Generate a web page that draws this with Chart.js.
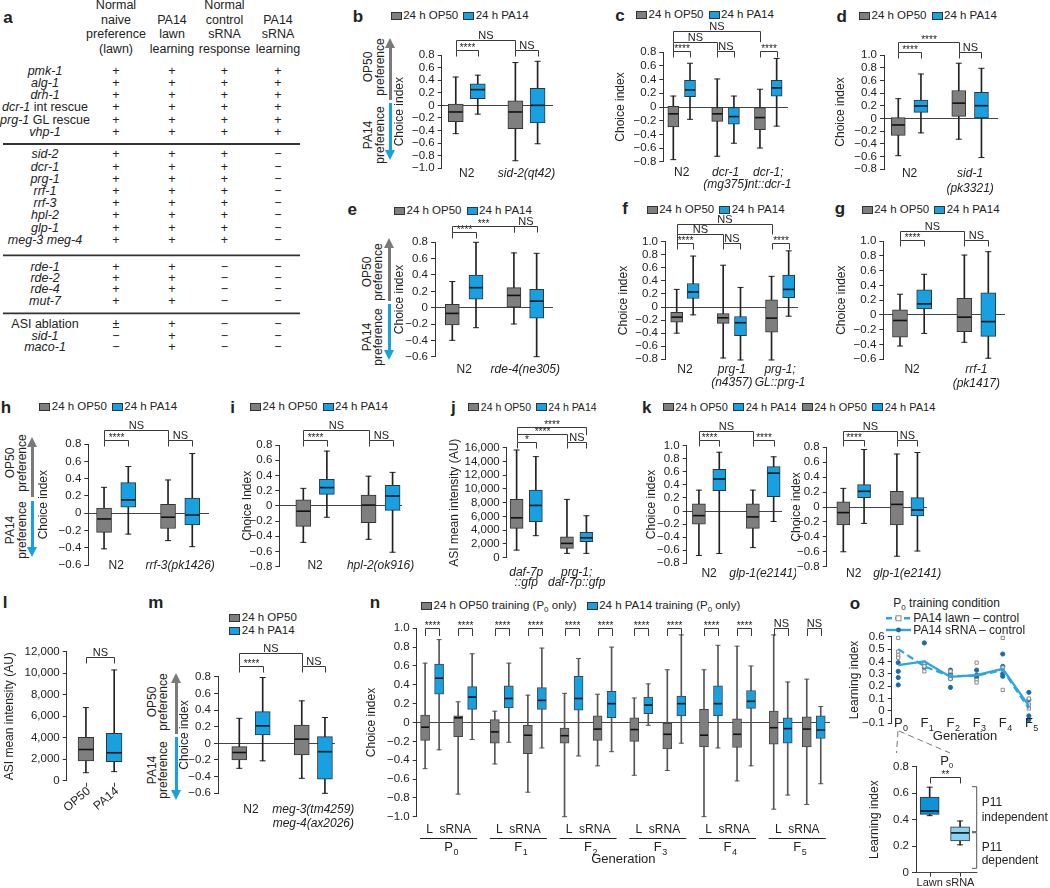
<!DOCTYPE html>
<html>
<head>
<meta charset="utf-8">
<title>PA14 learning panels</title>
<script src="https://cdn.jsdelivr.net/npm/chart.js@4.4.1/dist/chart.umd.min.js"></script>
<style>
  html, body { margin: 0; padding: 0; background: #fff; }
  body { position: relative; width: 1050px; height: 888px; overflow: hidden;
         font-family: "Liberation Sans", Arial, Helvetica, sans-serif; color: #222; }
  .t { position: absolute; white-space: nowrap; line-height: 1; font-size: 12px; }
  .t sub { font-size: 8px; vertical-align: -3px; line-height: 0; }
  .lt { font-weight: bold; font-size: 17px; }
  .sw { position: absolute; width: 11px; height: 8px; border: 1px solid #333; box-sizing: border-box; }
  canvas { position: absolute; }
</style>
</head>
<body>
<svg id="deco" width="1050" height="888" style="position:absolute;left:0;top:0"></svg>
<script>
'use strict';

// ---------- data ----------
// each box: [min, q1, median, q3, max]; boxes alternate 24 h OP50 / 24 h PA14
const aCols = [['Normal', 'naive', 'preference', '(lawn)'], ['PA14', 'lawn', 'learning'],
  ['Normal', 'control', 'sRNA', 'response'], ['PA14', 'sRNA', 'learning']];
const aGenes = [
  ['<i>pmk-1</i>', '<i>alg-1</i>', '<i>drh-1</i>', '<i>dcr-1</i> int rescue', '<i>prg-1</i> GL rescue', '<i>vhp-1</i>'],
  ['<i>sid-2</i>', '<i>dcr-1</i>', '<i>prg-1</i>', '<i>rrf-1</i>', '<i>rrf-3</i>', '<i>hpl-2</i>', '<i>glp-1</i>', '<i>meg-3 meg-4</i>'],
  ['<i>rde-1</i>', '<i>rde-2</i>', '<i>rde-4</i>', '<i>mut-7</i>'],
  ['ASI ablation', '<i>sid-1</i>', '<i>maco-1</i>']
];
const aMarks = [
  ['++++', '++++', '++++', '++++', '++++', '++++'],
  ['+++−', '+++−', '+++−', '+++−', '+++−', '+++−', '+++−', '+++−'],
  ['++−−', '++−−', '++−−', '++−−'],
  ['±+−−', '−+−−', '−+−−']
];

const bGroups = [['N2'], ['sid-2(qt42)']];
const bStats = [[-0.45, -0.26, -0.105, 0.02, 0.45], [-0.14, 0.105, 0.25, 0.34, 0.48],
  [-0.88, -0.37, -0.105, 0.07, 0.68], [-0.61, -0.28, 0.0, 0.27, 0.7]];
const bSig = [[0, 1, '****'], [2, 3, 'NS'], [0, 2, 'NS']];

const cGroups = [['N2'], ['dcr-1', '(mg375)'], ['dcr-1;', 'int::dcr-1']];
const cStats = [[-0.77, -0.29, -0.1, 0.01, 0.16], [-0.18, 0.15, 0.25, 0.39, 0.64],
  [-0.72, -0.21, -0.1, 0.0, 0.41], [-0.53, -0.25, -0.14, 0.0, 0.16],
  [-0.6, -0.33, -0.155, -0.01, 0.26], [-0.28, 0.16, 0.28, 0.39, 0.71]];
const cSig = [[0, 1, '****'], [2, 3, 'NS'], [4, 5, '****'], [0, 2, 'NS'], [0, 4, 'NS']];

const dGroups = [['N2'], ['sid-1', '(pk3321)']];
const dStats = [[-0.59, -0.27, -0.105, 0.01, 0.31], [-0.23, 0.095, 0.195, 0.29, 0.7],
  [-0.33, 0.03, 0.24, 0.44, 0.87], [-0.62, 0.0, 0.2, 0.41, 0.79]];
const dSig = [[0, 1, '****'], [2, 3, 'NS'], [0, 2, '****']];

const eGroups = [['N2'], ['rde-4(ne305)']];
const eStats = [[-0.4, -0.21, -0.07, 0.04, 0.32], [-0.245, 0.105, 0.245, 0.4, 0.8],
  [-0.2, 0.0, 0.15, 0.245, 0.67], [-0.6, -0.13, 0.08, 0.225, 0.665]];
const eSig = [[0, 1, '****'], [2, 3, 'NS'], [0, 2, '***']];

const fGroups = [['N2'], ['prg-1', '(n4357)'], ['prg-1;', 'GL::prg-1']];
const fStats = [[-0.4, -0.23, -0.155, -0.08, 0.27], [-0.12, 0.13, 0.23, 0.36, 0.78],
  [-0.78, -0.25, -0.165, -0.1, 0.64], [-0.81, -0.44, -0.24, -0.145, 0.3],
  [-0.81, -0.385, -0.17, 0.11, 0.47], [-0.14, 0.145, 0.27, 0.49, 0.86]];
const fSig = [[0, 1, '****'], [2, 3, 'NS'], [4, 5, '****'], [0, 2, 'NS'], [0, 4, 'NS']];

const gGroups = [['N2'], ['rrf-1', '(pk1417)']];
const gStats = [[-0.42, -0.3, -0.075, 0.07, 0.28], [-0.25, 0.08, 0.15, 0.34, 0.55],
  [-0.37, -0.225, -0.03, 0.225, 0.81], [-0.585, -0.29, -0.09, 0.3, 0.855]];
const gSig = [[0, 1, '****'], [2, 3, 'NS'], [0, 2, 'NS']];

const hGroups = [['N2'], ['rrf-3(pk1426)']];
const hStats = [[-0.41, -0.22, -0.065, 0.06, 0.3], [-0.24, 0.07, 0.155, 0.355, 0.54],
  [-0.315, -0.175, -0.045, 0.105, 0.385], [-0.385, -0.135, -0.02, 0.175, 0.69]];
const hSig = [[0, 1, '****'], [2, 3, 'NS'], [0, 2, 'NS']];

const iGroups = [['N2'], ['hpl-2(ok916)']];
const iStats = [[-0.48, -0.27, -0.07, 0.08, 0.23], [-0.15, 0.15, 0.24, 0.35, 0.72],
  [-0.44, -0.22, 0.01, 0.14, 0.39], [-0.61, -0.06, 0.13, 0.27, 0.44]];
const iSig = [[0, 1, '****'], [2, 3, 'NS'], [0, 2, 'NS']];

const jGroups = [['daf-7p', '::gfp'], ['prg-1;', 'daf-7p::gfp']];
const jStats = [[1100, 4270, 5800, 8480, 15660], [3200, 5240, 7600, 9840, 14700],
  [630, 1360, 2080, 3050, 8480], [630, 2330, 2900, 3680, 6100]];
const jSig = [[0, 1, '*'], [2, 3, 'NS'], [0, 2, '****'], [0, 3, '****']];

const kGroups = [['N2'], ['glp-1(e2141)']];
const k1Stats = [[-0.68, -0.2, -0.07, 0.11, 0.32], [-0.65, 0.31, 0.49, 0.64, 0.9],
  [-0.56, -0.265, -0.09, 0.11, 0.32], [-0.16, 0.22, 0.58, 0.68, 0.83]];
const k1Sig = [[0, 1, '****'], [2, 3, '****'], [0, 2, 'NS']];
const k2Stats = [[-0.6, -0.24, -0.075, 0.07, 0.25], [-0.22, 0.125, 0.21, 0.3, 0.77],
  [-0.66, -0.24, 0.035, 0.21, 0.71], [-0.59, -0.12, -0.04, 0.125, 0.73]];
const k2Sig = [[0, 1, '****'], [2, 3, 'NS'], [0, 2, 'NS']];

const lCats = ['OP50', 'PA14'];
const lStats = [[740, 1830, 2900, 4030, 6800], [840, 1770, 2600, 4400, 10300]];
const lSig = [[0, 1, 'NS']];

const mGroups = [['N2'], ['meg-3(tm4259)', 'meg-4(ax2026)']];
const mStats = [[-0.3, -0.2, -0.11, -0.04, 0.3], [-0.21, 0.1, 0.21, 0.38, 0.79],
  [-0.42, -0.14, 0.05, 0.22, 0.51], [-0.6, -0.43, -0.1, 0.08, 0.31]];
const mSig = [[0, 1, '****'], [2, 3, 'NS'], [0, 2, 'NS']];

// n: per generation -> L OP50, L PA14, sRNA OP50, sRNA PA14
const nGens = [['P', '0'], ['F', '1'], ['F', '2'], ['F', '3'], ['F', '4'], ['F', '5']];
const nStats = [
  [-0.49, -0.19, -0.05, 0.08, 0.63], [-0.29, 0.3, 0.47, 0.62, 0.88], [-0.76, -0.15, 0.05, 0.07, 0.22], [-0.18, 0.14, 0.27, 0.38, 0.73],
  [-0.44, -0.22, -0.1, 0.03, 0.12], [-0.21, 0.155, 0.255, 0.39, 0.63], [-0.74, -0.33, -0.135, -0.03, 0.29], [-0.27, 0.14, 0.235, 0.37, 0.79],
  [-1.0, -0.22, -0.14, -0.06, 0.31], [-0.355, 0.13, 0.255, 0.49, 0.68], [-0.46, -0.19, -0.07, 0.07, 0.3], [-0.31, 0.05, 0.2, 0.33, 0.8],
  [-0.56, -0.2, -0.075, 0.05, 0.26], [-0.03, 0.095, 0.185, 0.27, 0.41], [-0.51, -0.28, -0.125, -0.01, 0.56], [-0.22, 0.07, 0.2, 0.28, 0.93],
  [-1.0, -0.26, -0.135, 0.14, 0.56], [-0.27, 0.07, 0.2, 0.39, 0.82], [-0.62, -0.265, -0.125, 0.04, 0.81], [-0.46, 0.15, 0.225, 0.34, 0.6],
  [-0.92, -0.23, -0.055, 0.12, 0.93], [-0.77, -0.22, -0.065, 0.05, 0.43], [-0.87, -0.26, -0.07, 0.06, 0.46], [-0.65, -0.17, -0.08, 0.07, 0.17]
];
const nSig = ['****', '****', '****', '****', '****', '****', '****', '****', '****', '****', 'NS', 'NS'];

// o: learning index per generation
const oLawn = [0.5, 0.36, 0.28, 0.285, 0.33, 0.02];
const oSrna = [0.37, 0.4, 0.275, 0.29, 0.34, 0.04];
const oLawnReps = [[0.59, 0.48, 0.45, 0.43], [0.39, 0.36, 0.32], [0.32, 0.28, 0.26], [0.39, 0.25, 0.23], [0.59, 0.35, 0.17], [0.1, 0.05, 0.02]];
const oSrnaReps = [[0.39, 0.32, 0.27, 0.21], [0.55, 0.38, 0.35], [0.33, 0.3, 0.26, 0.19], [0.33, 0.29, 0.27], [0.46, 0.36, 0.3, 0.28], [0.15, 0.09, -0.04, -0.07]];
const oInsetCats = [['Lawn'], ['sRNA']];
const oInsetStats = [[0.43, 0.44, 0.465, 0.57, 0.645], [0.21, 0.24, 0.3, 0.345, 0.39]];
const oInsetSig = [[0, 1, '**']];

// ---------- helpers ----------
const FONT = '"Liberation Sans", Arial, Helvetica, sans-serif';
const GRAY = '#7f7f7f', BLUE = '#17a1e2', AGRAY = '#7a7a7a';
Chart.defaults.font.family = FONT;

function txt(x, y, html, css) {
  const d = document.createElement('div');
  d.className = 't';
  d.innerHTML = html;
  d.style.left = x + 'px';
  d.style.top = y + 'px';
  d.style.transform = 'translate(-50%,-50%)';
  Object.assign(d.style, css || {});
  document.body.appendChild(d);
  return d;
}
function ltxt(x, y, html, css) {
  return txt(x, y, html, Object.assign({ transform: 'translate(0,-50%)' }, css || {}));
}
function letter(x, y, s) { txt(x, y, s).classList.add('lt'); }

// legend items flow left to right from x
function legend(x, y, items, size) {
  items.forEach(([col, label]) => {
    const s = document.createElement('div');
    s.className = 'sw';
    s.style.left = x + 'px';
    s.style.top = (y - 4) + 'px';
    s.style.background = col;
    document.body.appendChild(s);
    const t = ltxt(x + 12.5, y, label, { fontSize: (size || 11.5) + 'px' });
    x += 12.5 + t.offsetWidth + 5;
  });
}

function div(css) {
  const d = document.createElement('div');
  d.style.position = 'absolute';
  Object.assign(d.style, css);
  document.body.appendChild(d);
}
// OP50 / PA14 preference arrow left of a choice-index axis
function prefArrow(x, yTop, yMid, yBot, tx1, tx2, cy1, cy2) {
  div({ left: (x - 1.5) + 'px', top: (yTop + 9) + 'px', width: '3px', height: (yMid - 1.5 - yTop - 9) + 'px', background: AGRAY });
  div({ left: (x - 5.5) + 'px', top: yTop + 'px', width: 0, height: 0, borderLeft: '5.5px solid transparent',
    borderRight: '5.5px solid transparent', borderBottom: '10px solid ' + AGRAY });
  div({ left: (x - 1.5) + 'px', top: (yMid + 1.5) + 'px', width: '3px', height: (yBot - 9 - yMid - 1.5) + 'px', background: BLUE });
  div({ left: (x - 5.5) + 'px', top: (yBot - 10) + 'px', width: 0, height: 0, borderLeft: '5.5px solid transparent',
    borderRight: '5.5px solid transparent', borderTop: '10px solid ' + BLUE });
  const rot = { transform: 'translate(-50%,-50%) rotate(-90deg)' };
  txt(tx1, cy1, 'OP50', rot); txt(tx2, cy1, 'preference', rot);
  txt(tx1, cy2, 'PA14', rot); txt(tx2, cy2, 'preference', rot);
}

function fmtDec(v) {
  if (Math.abs(v) < 1e-9) return '0';
  return (v < 0 ? '\u2212' : '') + Math.abs(v).toFixed(1);
}
function fmtK(v) { return Math.round(v).toLocaleString('en-US'); }

function drawSub(ctx, base, sub, x, y, size) {
  ctx.font = size + 'px ' + FONT;
  const w1 = ctx.measureText(base).width;
  ctx.textAlign = 'left';
  ctx.textBaseline = 'middle';
  ctx.fillText(base, x - w1 / 2, y);
  ctx.font = Math.round(size * 0.72) + 'px ' + FONT;
  ctx.fillText(sub, x + w1 / 2 + 0.5, y + size * 0.38);
}

// brackets, group labels and other annotations drawn from the chart scales
const annot = {
  id: 'annot',
  afterDraw(chart, args, o) {
    const ctx = chart.ctx, xs = chart.scales.x, ca = chart.chartArea, T = o.top;
    const px = i => xs.getPixelForValue(o.pos[i]);
    ctx.save();
    ctx.strokeStyle = '#3a3a3a';
    ctx.fillStyle = '#222';
    ctx.lineWidth = 1;
    (o.sig || []).forEach((s, k) => {
      const x1 = Math.round(px(s[0])) + 0.5, x2 = Math.round(px(s[1])) + 0.5;
      const y = Math.round(o.brY[k] - T) + 0.5;
      const leg = (o.brLeg && o.brLeg[k]) || 6;
      ctx.beginPath();
      ctx.moveTo(x1, y + leg); ctx.lineTo(x1, y); ctx.lineTo(x2, y); ctx.lineTo(x2, y + leg);
      ctx.stroke();
      const ns = s[2] === 'NS';
      ctx.font = (ns ? 11 : 10) + 'px ' + FONT;
      ctx.textAlign = 'center';
      ctx.textBaseline = 'alphabetic';
      ctx.fillText(s[2], (x1 + x2) / 2, y - (ns ? 1.5 : 0));
    });
    (o.groups || []).forEach((g, k) => {
      const idx = o.groupIdx ? o.groupIdx[k] : [2 * k, 2 * k + 1];
      const x = (px(idx[0]) + px(idx[idx.length - 1])) / 2;
      g.forEach((line, m) => {
        ctx.font = (line === 'N2' || o.roman ? '' : 'italic ') + (o.labelSize || 12) + 'px ' + FONT;
        ctx.textAlign = 'center';
        ctx.textBaseline = 'middle';
        ctx.fillText(line, x, o.labelY - T + m * (o.gap || 13));
      });
    });
    if (o.rot) {
      o.rot.forEach((s, i) => {
        ctx.save();
        ctx.translate(px(i) + 3, ca.bottom + 9);
        ctx.rotate(-40 * Math.PI / 180);
        ctx.font = '12px ' + FONT;
        ctx.textAlign = 'right';
        ctx.textBaseline = 'middle';
        ctx.fillText(s, 0, 0);
        ctx.restore();
      });
    }
    if (o.xticks) {
      o.pos.forEach((_, i) => {
        const x = Math.round(px(i)) + 0.5;
        ctx.beginPath(); ctx.moveTo(x, ca.bottom + (o.tickGap || 0)); ctx.lineTo(x, ca.bottom + (o.tickGap || 0) + 4); ctx.stroke();
      });
    }
    if (o.gens) {
      o.gens.forEach((g, k) => {
        const x0 = px(4 * k), x3 = px(4 * k + 3);
        const a = x0 - 5, b = x3 + 5, c = (a + b) / 2;
        ctx.font = '12px ' + FONT;
        ctx.textAlign = 'center';
        ctx.textBaseline = 'middle';
        ctx.fillText('L  sRNA', c, o.gLabelY - T);
        ctx.strokeStyle = '#222';
        ctx.beginPath(); ctx.moveTo(a, Math.round(o.gLineY - T) + 0.5); ctx.lineTo(b, Math.round(o.gLineY - T) + 0.5); ctx.stroke();
        drawSub(ctx, g[0], g[1], c, o.genY - T, 13);
      });
      ctx.font = '13px ' + FONT;
      ctx.textAlign = 'center';
      ctx.textBaseline = 'middle';
      ctx.fillText('Generation', (ca.left + ca.right) / 2, o.genTitleY - T);
    }
    if (o.catSubs) {
      o.catSubs.forEach((g, k) => drawSub(ctx, g[0], g[1], xs.getPixelForValue(k), o.catY - T, 13));
      ctx.font = '13px ' + FONT;
      ctx.textAlign = 'center';
      ctx.textBaseline = 'middle';
      ctx.fillText('Generation', o.catTitleX - o.left, o.catTitleY - T);
    }
    ctx.restore();
  }
};

function yScale(p, yW, L) {
  return {
    min: p.yMin, max: p.yMax,
    afterFit: s => { s.width = yW; },
    border: { display: true, color: '#333', width: 1 },
    grid: {
      drawOnChartArea: p.zero !== false,
      color: c => (c.tick && Math.abs(c.tick.value) < 1e-9) ? '#444' : 'rgba(0,0,0,0)',
      tickColor: '#333', tickLength: 4, lineWidth: 1
    },
    ticks: { stepSize: p.step, color: '#222', font: { family: FONT, size: 11.5 }, padding: 3,
      autoSkip: false, maxRotation: 0, callback: p.fmt || fmtDec },
    title: { display: true, text: p.title, color: '#222', font: { family: FONT, size: 12 },
      padding: { top: p.titleX - L - 7.2, bottom: 0 } }
  };
}

function boxChart(p) {
  const T = Math.round(Math.min(p.topPix - 10, ...(p.brY || []).map(y => y - 16)));
  const nl = p.groups ? Math.max(...p.groups.map(g => g.length)) : 1;
  const B = Math.round(Math.max(p.botPix + 12, (p.labelY || 0) + (nl - 1) * (p.gap || 13) + 10, p.bottomTo || 0));
  const L = Math.round(p.titleX - 9);
  const yW = p.axisX - L;
  const padR = p.padR != null ? p.padR : 34;
  const W = Math.round(yW + p.right - p.axisX + padR);
  const H = B - T;
  const cv = document.createElement('canvas');
  cv.width = W; cv.height = H;
  cv.style.left = L + 'px'; cv.style.top = T + 'px';
  document.body.appendChild(cv);
  const st = p.stats;
  const cols = p.colors || st.map((_, i) => i % 2 ? BLUE : GRAY);
  const ds = [
    { type: 'bar', data: p.pos.map((x, i) => ({ x, y: [st[i][0], st[i][4]] })), backgroundColor: p.whisk || '#222',
      barThickness: 1, grouped: false, order: 3, clip: false },
    { type: 'bar', data: p.pos.map((x, i) => ({ x, y: [st[i][1], st[i][3]] })), backgroundColor: cols,
      borderColor: p.edge || '#333', borderWidth: 1, borderSkipped: false, barThickness: p.boxW, grouped: false, order: 2, clip: false },
    { type: 'scatter', data: p.pos.map((x, i) => ({ x, y: st[i][2] })), pointStyle: 'line', pointRadius: p.boxW / 2 - 0.5,
      pointBorderColor: '#111', pointBorderWidth: 1.6, order: 1, clip: false },
    { type: 'scatter', data: p.pos.flatMap((x, i) => [{ x, y: st[i][0] }, { x, y: st[i][4] }]), pointStyle: 'line',
      pointRadius: p.capR || 3, pointBorderColor: p.whisk || '#222', pointBorderWidth: 1, order: 1, clip: false }
  ];
  new Chart(cv, {
    type: 'bar',
    data: { datasets: ds },
    options: {
      responsive: false, animation: false, events: [],
      layout: { padding: { top: p.topPix - T, bottom: B - p.botPix, left: 0, right: padR } },
      plugins: {
        legend: { display: false }, tooltip: { enabled: false },
        annot: { top: T, left: L, pos: p.pos, sig: p.sig, brY: p.brY, brLeg: p.brLeg, groups: p.groups, groupIdx: p.groupIdx,
          roman: p.roman, labelY: p.labelY, labelSize: p.labelSize, gap: p.gap, rot: p.rot, xticks: p.xticks, tickGap: p.tickGap,
          gens: p.gens, gLabelY: p.gLabelY, gLineY: p.gLineY, genY: p.genY, genTitleY: p.genTitleY }
      },
      scales: {
        x: { type: 'linear', display: false, min: 0, max: p.xMax, offset: false },
        y: yScale(p, yW, L)
      }
    },
    plugins: [annot]
  });
}

// ---------- panel a: table ----------
letter(8, 17, 'a');
const aColX = [116, 172, 224.5, 278];
aCols.forEach((lines, c) => {
  const ys = [5, 20, 34.3, 49.3].slice(4 - lines.length);
  lines.forEach((s, k) => txt(aColX[c], ys[k], s, { fontSize: '12.5px' }));
});
const aStart = [70.7, 154.3, 267, 324.3], aStep = [12.2, 12.2, 11.2, 11.2];
aGenes.forEach((g, gi) => g.forEach((name, r) => {
  const y = aStart[gi] + r * aStep[gi];
  txt(45, y, name, { fontSize: '12.5px' });
  [...aMarks[gi][r]].forEach((m, c) => txt(aColX[c], y, m, { fontSize: '12.5px' }));
}));

// ---------- letters and legends ----------
letter(358, 15.7, 'b'); letter(620, 15, 'c'); letter(841.7, 15.7, 'd');
letter(352.3, 209.3, 'e'); letter(625, 208.3, 'f'); letter(840, 208.3, 'g');
letter(6, 406.7, 'h'); letter(232.7, 406.7, 'i'); letter(453.3, 407.3, 'j'); letter(646.7, 407.3, 'k');
letter(5, 601.7, 'l'); letter(155.7, 601.7, 'm'); letter(375, 601.7, 'n'); letter(855, 602.7, 'o');

const LEG = [[GRAY, '24 h OP50'], [BLUE, '24 h PA14']];
legend(390.7, 15.7, LEG);
legend(636, 15, LEG);
legend(859, 15.7, LEG);
legend(394, 211, LEG);
legend(646.7, 210, LEG);
legend(861.7, 210, LEG);
legend(39.3, 406.7, LEG);
legend(250, 406.7, LEG);
legend(468.3, 407.3, LEG, 10.5);
legend(662.7, 407.3, LEG.concat(LEG), 11);
legend(229.3, 618.3, [LEG[0]]);
legend(229.3, 630.7, [LEG[1]]);
legend(421, 606, [[GRAY, '24 h OP50 training (P<sub>0</sub> only)']]);
legend(586.7, 606, [[BLUE, '24 h PA14 training (P<sub>0</sub> only)']]);

prefArrow(390.7, 38, 101.5, 160, 368, 380, 66.7, 135);
prefArrow(389.3, 238, 302, 360, 366.7, 378.3, 271.7, 336.7);
prefArrow(32.7, 436.7, 499, 556.7, 10, 21.7, 463.3, 530);
prefArrow(176.7, 673.3, 735.5, 800, 151.7, 163.3, 701.7, 770);

// ---------- box panels ----------
boxChart({ stats: bStats, sig: bSig, brY: [50, 50, 40], brLeg: [6, 6, 10], groups: bGroups, labelY: 173.3,
  pos: [0.64, 1.64, 3.35, 4.36], xMax: 5.06, axisX: 441.7, right: 553, topPix: 55, botPix: 168.3,
  yMin: -1, yMax: 0.8, step: 0.2, titleX: 400, title: 'Choice index', boxW: 15 });
boxChart({ stats: cStats, sig: cSig, brY: [51, 51, 51, 41.7, 31], brLeg: [6, 6, 6, 9, 10.7], groups: cGroups, labelY: 172.7, gap: 12.3,
  pos: [0.6, 1.6, 3.23, 4.23, 5.79, 6.79], xMax: 7.47, axisX: 663.3, right: 788, topPix: 52.3, botPix: 161.7,
  yMin: -0.8, yMax: 0.8, step: 0.2, titleX: 620.7, title: 'Choice index', boxW: 11, padR: 20 });
boxChart({ stats: dStats, sig: dSig, brY: [51.7, 51.7, 41.7], brLeg: [6, 6, 10], groups: dGroups, labelY: 173.3, gap: 15,
  pos: [0.63, 1.63, 3.3, 4.3], xMax: 5.03, axisX: 884, right: 998.3, topPix: 55, botPix: 169,
  yMin: -0.8, yMax: 1.0, step: 0.2, titleX: 841, title: 'Choice index', boxW: 14 });
boxChart({ stats: eStats, sig: eSig, brY: [231.7, 226, 226], brLeg: [6, 6, 6], groups: eGroups, labelY: 370,
  pos: [0.73, 1.73, 3.33, 4.29], xMax: 4.98, axisX: 435, right: 553, topPix: 242.3, botPix: 356.7,
  yMin: -0.6, yMax: 0.8, step: 0.2, titleX: 400, title: 'Choice index', boxW: 14 });
boxChart({ stats: fStats, sig: fSig, brY: [243.3, 243.3, 243.3, 234, 224], brLeg: [6, 6, 6, 9.3, 10], groups: fGroups, labelY: 369.3, gap: 13.4,
  pos: [0.69, 1.66, 3.43, 4.45, 6.28, 7.29], xMax: 7.84, axisX: 665, right: 798.3, topPix: 241.7, botPix: 359.3,
  yMin: -0.8, yMax: 1.0, step: 0.2, titleX: 623.3, title: 'Choice index', boxW: 12, padR: 20 });
boxChart({ stats: gStats, sig: gSig, brY: [240, 240, 231], brLeg: [6, 6, 9], groups: gGroups, labelY: 370, gap: 13.3,
  pos: [0.69, 1.69, 3.35, 4.34], xMax: 5.03, axisX: 883.3, right: 1005, topPix: 241, botPix: 359.3,
  yMin: -0.6, yMax: 1.0, step: 0.2, titleX: 841.7, title: 'Choice index', boxW: 15 });
boxChart({ stats: hStats, sig: hSig, brY: [440, 440, 430], brLeg: [6, 6, 10], groups: hGroups, labelY: 565.7,
  pos: [0.65, 1.65, 3.29, 4.29], xMax: 4.98, axisX: 88.3, right: 209.3, topPix: 444, botPix: 565.3,
  yMin: -0.6, yMax: 0.8, step: 0.2, titleX: 43.3, title: 'Choice index', boxW: 15 });
boxChart({ stats: iStats, sig: iSig, brY: [440, 440, 430], brLeg: [6, 6, 10], groups: iGroups, labelY: 565.7,
  pos: [1.02, 2.02, 3.79, 4.81], xMax: 5.21, axisX: 279.3, right: 401.7, topPix: 445, botPix: 566.7,
  yMin: -0.8, yMax: 0.8, step: 0.2, titleX: 247.3, title: 'Choice Index', boxW: 15 });
boxChart({ stats: jStats, sig: jSig, brY: [441.7, 441.7, 434.3, 426.7], brLeg: [6, 6, 7.4, 7.6], groups: jGroups, labelY: 572.3, gap: 10.6,
  pos: [0.51, 1.5, 3.1, 4.1], xMax: 4.8, axisX: 506.7, right: 600, topPix: 447.7, botPix: 557.7, zero: false,
  yMin: 0, yMax: 16000, step: 2000, fmt: fmtK, titleX: 455, title: 'ASI mean intensity (AU)', boxW: 13, padR: 14 });
boxChart({ stats: k1Stats, sig: k1Sig, brY: [440, 440, 431], brLeg: [6, 6, 9], groups: kGroups, labelY: 573.3,
  pos: [0.6, 1.6, 3.25, 4.27], xMax: 4.68, axisX: 686.7, right: 781.7, topPix: 445.7, botPix: 563.3,
  yMin: -0.8, yMax: 1.0, step: 0.2, titleX: 651.7, title: 'Choice index', boxW: 13, padR: 14 });
boxChart({ stats: k2Stats, sig: k2Sig, brY: [440, 440, 431], brLeg: [6, 6, 9], groups: kGroups, labelY: 573.3,
  pos: [0.8, 1.8, 3.38, 4.37], xMax: 4.83, axisX: 826.7, right: 926.7, topPix: 447.3, botPix: 566.7,
  yMin: -0.8, yMax: 0.8, step: 0.2, titleX: 796.7, title: 'Choice index', boxW: 13, padR: 30 });
boxChart({ stats: lStats, sig: lSig, brY: [656.7], brLeg: [6], rot: lCats, xticks: true, tickGap: 2, bottomTo: 824,
  pos: [0.68, 1.68], xMax: 2.24, axisX: 66.7, right: 130, topPix: 651.7, botPix: 780.7, zero: false,
  yMin: 0, yMax: 12000, step: 2000, fmt: fmtK, titleX: 10, title: 'ASI mean intensity (AU)', boxW: 15.7, padR: 10 });
boxChart({ stats: mStats, sig: mSig, brY: [666, 666, 653.3], brLeg: [6, 6, 12.7], groups: mGroups, labelY: 809.3, gap: 14,
  pos: [0.91, 1.91, 3.58, 4.57], xMax: 5.0, axisX: 218, right: 335, topPix: 676.7, botPix: 793.3,
  yMin: -0.6, yMax: 0.8, step: 0.2, titleX: 184.3, title: 'Choice index', boxW: 15, padR: 40 });

const nPos = nGens.flatMap((_, g) => [0, 1.0, 2.36, 3.36].map(d => 0.6 + 4.98 * g + d));
boxChart({ stats: nStats, sig: nSig.map((s, k) => [2 * k, 2 * k + 1, s]), brY: nSig.map(() => 628.3), brLeg: nSig.map(() => 7.5),
  gens: nGens, gLabelY: 830, gLineY: 838.3, genY: 847.3, genTitleY: 859.3, bottomTo: 870,
  pos: nPos, xMax: 29.52, axisX: 416.7, right: 830, topPix: 628.3, botPix: 816.7,
  yMin: -1, yMax: 1, step: 0.2, titleX: 371.7, title: 'Choice index', boxW: 9, padR: 8, whisk: '#555', edge: '#444', capR: 2.5 });

boxChart({ stats: oInsetStats, sig: oInsetSig, brY: [777.3], brLeg: [6], groups: oInsetCats, groupIdx: [[0], [1]], roman: true,
  labelY: 883.3, labelSize: 11, xticks: true, colors: ['#0f92d6', '#8ad2f1'],
  pos: [0.45, 1.45], xMax: 2.02, axisX: 916, right: 980, topPix: 766, botPix: 872.7,
  yMin: 0, yMax: 0.8, step: 0.2, titleX: 875, title: 'Learning index', boxW: 19, padR: 8 });

// ---------- panel o: line chart ----------
(function () {
  const L = 846, T = 626, B = 746, axisX = 891.7, right = 1037.7, topPix = 636.7, botPix = 723.3, padR = 8;
  const yW = axisX - L;
  const cv = document.createElement('canvas');
  cv.width = Math.round(yW + right - axisX + padR); cv.height = B - T;
  cv.style.left = L + 'px'; cv.style.top = T + 'px';
  document.body.appendChild(cv);
  const LB = '#2aa5e6';
  new Chart(cv, {
    type: 'line',
    data: {
      datasets: [
        { data: oLawnReps.flatMap((vs, g) => vs.map(y => ({ x: g, y }))), showLine: false, pointStyle: 'rect', pointRadius: 2.3,
          pointBackgroundColor: '#fff', pointBorderColor: '#8a8a8a', pointBorderWidth: 1, order: 2, clip: false },
        { data: oSrnaReps.flatMap((vs, g) => vs.map(y => ({ x: g, y }))), showLine: false, pointStyle: 'circle', pointRadius: 2.1,
          pointBackgroundColor: '#1d6aa6', pointBorderColor: '#1d6aa6', pointBorderWidth: 1, order: 2, clip: false },
        { data: oLawn.map((y, x) => ({ x, y })), borderColor: LB, borderWidth: 2.2, borderDash: [7, 4], pointRadius: 0, order: 1, clip: false },
        { data: oSrna.map((y, x) => ({ x, y })), borderColor: LB, borderWidth: 2.2, pointRadius: 0, order: 1, clip: false }
      ]
    },
    options: {
      responsive: false, animation: false, events: [],
      layout: { padding: { top: topPix - T, bottom: B - botPix, left: 0, right: padR } },
      plugins: { legend: { display: false }, tooltip: { enabled: false },
        annot: { top: T, left: L, pos: [], catSubs: nGens, catY: 723.3, catTitleX: 965, catTitleY: 736.5 } },
      scales: {
        x: { type: 'linear', display: false, min: -0.25, max: 5.35, offset: false },
        y: yScale({ yMin: -0.1, yMax: 0.6, step: 0.1, zero: false, title: 'Learning index', titleX: 855 }, yW, L)
      }
    },
    plugins: [annot]
  });
})();

ltxt(893.3, 602.7, 'P<sub>0</sub> training condition', { fontSize: '12px' });
ltxt(913.3, 618.3, 'PA14 lawn – control', { fontSize: '12px' });
ltxt(913.3, 630, 'PA14 sRNA – control', { fontSize: '12px' });
txt(946.7, 760, 'P<sub>0</sub>', { fontSize: '13px' });
ltxt(981.7, 801.7, 'P11'); ltxt(981.7, 816.7, 'independent');
ltxt(981.7, 846.7, 'P11'); ltxt(981.7, 860, 'dependent');

// ---------- decorative lines ----------
(function () {
  const svg = document.getElementById('deco');
  const ns = 'http://www.w3.org/2000/svg';
  function el(tag, attrs) {
    const e = document.createElementNS(ns, tag);
    Object.keys(attrs).forEach(k => e.setAttribute(k, attrs[k]));
    svg.appendChild(e);
  }
  [144, 255.3, 313.3].forEach(y => el('line', { x1: 3, x2: 300, y1: y, y2: y, stroke: '#333', 'stroke-width': 1.8 }));
  el('line', { x1: 886, x2: 911, y1: 618.3, y2: 618.3, stroke: '#2aa5e6', 'stroke-width': 2.4, 'stroke-dasharray': '6,3' });
  el('rect', { x: 896, y: 615.8, width: 5, height: 5, fill: '#fff', stroke: '#8a8a8a' });
  el('line', { x1: 886, x2: 911, y1: 630, y2: 630, stroke: '#2aa5e6', 'stroke-width': 2.4 });
  el('circle', { cx: 898.5, cy: 630, r: 2.4, fill: '#1d6aa6' });
  el('line', { x1: 898, y1: 731, x2: 896.5, y2: 753, stroke: '#777', 'stroke-dasharray': '6,4' });
  el('line', { x1: 899, y1: 731, x2: 950, y2: 753, stroke: '#777', 'stroke-dasharray': '6,4' });
  el('path', { d: 'M972,786.7 H976.7 V831.7 H972 M972,832.7 H976.7 V868.3 H972', fill: 'none', stroke: '#555' });
})();
</script>
</body>
</html>
